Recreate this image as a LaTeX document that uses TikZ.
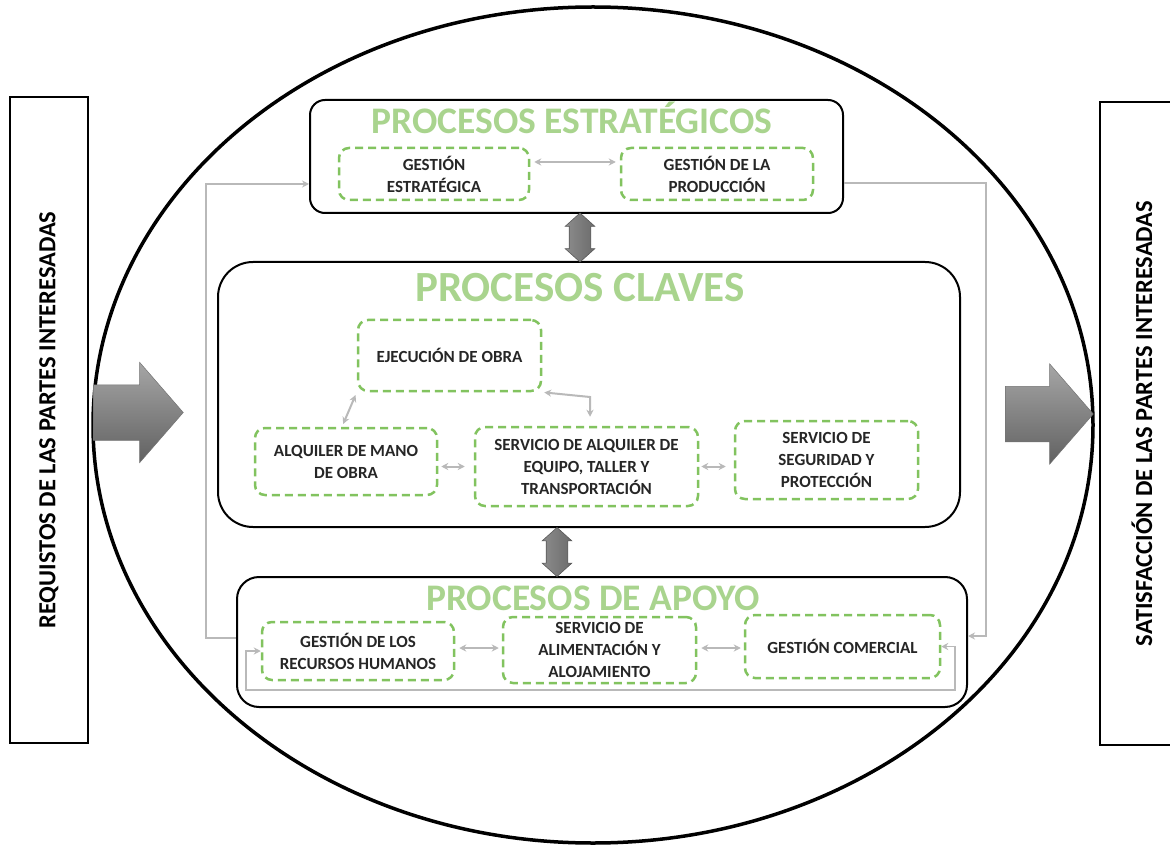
\documentclass[tikz,border=0pt]{standalone}
\usepackage{fontspec}
\setmainfont{Carlito}
\usetikzlibrary{shapes.arrows,arrows.meta}
\definecolor{titgreen}{RGB}{169,212,142}
\definecolor{dashgreen}{RGB}{130,195,95}
\definecolor{linkgray}{RGB}{185,185,185}
\definecolor{txtdark}{RGB}{38,38,38}
\tikzset{
  grp/.style={draw, line width=2pt, rounded corners=#1, inner sep=0},
  ttl/.style={text=titgreen, anchor=base, inner sep=0, font=\bfseries\fontsize{37.5}{37.5}\selectfont},
  proc/.style={draw=dashgreen, line width=2.5pt, dash pattern=on 8pt off 5pt, rounded corners=10pt,
    align=center, text=txtdark, inner sep=0, font=\bfseries\fontsize{17}{22}\selectfont},
  side/.style={draw, line width=2.5pt, rotate=90, inner sep=0, font=\bfseries\fontsize{24.5}{28}\selectfont},
  bigin/.style={single arrow, anchor=tail, minimum height=90, minimum width=100, single arrow head extend=22.5,
    single arrow tip angle=98, inner xsep=0, inner ysep=27.5, top color=black!35, bottom color=black!62,
    draw=black!55, line width=0.5pt},
  bigud/.style={double arrow, shape border rotate=90, minimum height=49, minimum width=29,
    double arrow head extend=4, double arrow tip angle=96, inner sep=10.5, left color=black!45,
    right color=black!58, draw=black!65, line width=0.6pt},
  link/.style={draw=linkgray, line width=2pt},
  thinlink/.style={draw=linkgray, line width=1.5pt}
}
\begin{document}
\begin{tikzpicture}[x=1pt,y=-1pt,>={Stealth[length=7pt,width=7pt]}]
\clip (0,0) rectangle (1170,850);
\fill[white] (0,0) rectangle (1170,850);
% frame
\draw[line width=3.5pt] (593,425) ellipse [x radius=500, y radius=418];
\node[side, minimum width=646, minimum height=78] (req) at (49,420) {REQUISTOS DE LAS PARTES INTERESADAS};
\node[side, minimum width=643, minimum height=84] (sat) at (1142,423.5) {SATISFACCIÓN DE LAS PARTES INTERESADAS};
\node[bigin] (inl) at (93,412.5) {};
\node[bigin, minimum height=88] (inr) at (1005,414) {};
% process groups
\node[grp=15pt, minimum width=533, minimum height=113] (est) at (576.5,156.5) {};
\node[grp=35pt, minimum width=742, minimum height=265] (cla) at (589,394.5) {};
\node[grp=22pt, minimum width=730, minimum height=130] (apo) at (602,642) {};
\node[ttl] (test) at (572,134) {PROCESOS ESTRATÉGICOS};
\node[ttl, font=\bfseries\fontsize{43}{43}\selectfont] (tcla) at (580,302) {PROCESOS CLAVES};
\node[ttl] (tapo) at (593,610) {PROCESOS DE APOYO};
\node[bigud] (ud1) at (580,237.5) {};
\node[bigud] (ud2) at (557,552) {};
% strategic
\node[proc, minimum width=190, minimum height=52] (ge) at (434,174) {GESTIÓN\\ESTRATÉGICA};
\node[proc, minimum width=192, minimum height=52] (gp) at (717,174) {GESTIÓN DE LA\\PRODUCCIÓN};
% key
\node[proc, minimum width=183, minimum height=71] (eo) at (449.5,355.5) {EJECUCIÓN DE OBRA};
\node[proc, minimum width=182, minimum height=67] (amo) at (346,461.5) {ALQUILER DE MANO\\DE OBRA};
\node[proc, minimum width=223, minimum height=79] (sae) at (586.5,466.5) {SERVICIO DE ALQUILER DE\\EQUIPO, TALLER Y\\TRANSPORTACIÓN};
\node[proc, minimum width=183, minimum height=78] (ssp) at (826.5,460) {SERVICIO DE\\SEGURIDAD Y\\PROTECCIÓN};
% support
\node[proc, minimum width=192, minimum height=58] (grh) at (358,651) {GESTIÓN DE LOS\\RECURSOS HUMANOS};
\node[proc, minimum width=193, minimum height=66] (saa) at (599.5,650) {SERVICIO DE\\ALIMENTACIÓN Y\\ALOJAMIENTO};
\node[proc, minimum width=195, minimum height=63] (gc) at (842.5,646.5) {GESTIÓN COMERCIAL};
% links
\coordinate (gea) at ([yshift=12pt]ge.east);
\draw[link,<->,shorten <=4pt,shorten >=4pt] (gea) -- (gea -| gp.west);
\draw[link,<->,shorten <=3pt,shorten >=3pt] ([xshift=-4pt]amo.north) -- (eo.south west);
\coordinate (bnd) at (590,397);
\draw[link,<->,shorten <=2pt,shorten >=9pt] (eo.south east) -- (bnd) -- (bnd |- sae.north);
\coordinate (ama) at ([yshift=-5pt]amo.east);
\draw[link,<->,shorten <=3pt,shorten >=9pt] (ama) -- (ama -| sae.west);
\coordinate (saeb) at ([yshift=0pt]sae.east);
\draw[link,<->,shorten <=2pt,shorten >=8pt] (saeb) -- (saeb -| ssp.west);
\coordinate (grha) at ([yshift=3pt]grh.east);
\draw[link,<->,shorten <=4pt,shorten >=3pt] (grha) -- (grha -| saa.west);
\coordinate (saab) at ([yshift=2pt]saa.east);
\draw[link,<->,shorten <=4pt,shorten >=3pt] (saab) -- (saab -| gc.west);
\coordinate (lpr) at (955,690);
\draw[thinlink,<->] (grh.west) -- ++(-15,0) |- (lpr) |- (gc.east);
\coordinate (lft) at ([yshift=4pt]apo.west);
\draw[link,->] (lft) -- ++(-30,0) |- ([yshift=-27.5pt]est.west);
\draw[link,->] ([yshift=-26.5pt]est.east) -- ++(142,0) |- ([yshift=6pt]apo.east);
\end{tikzpicture}
\end{document}
